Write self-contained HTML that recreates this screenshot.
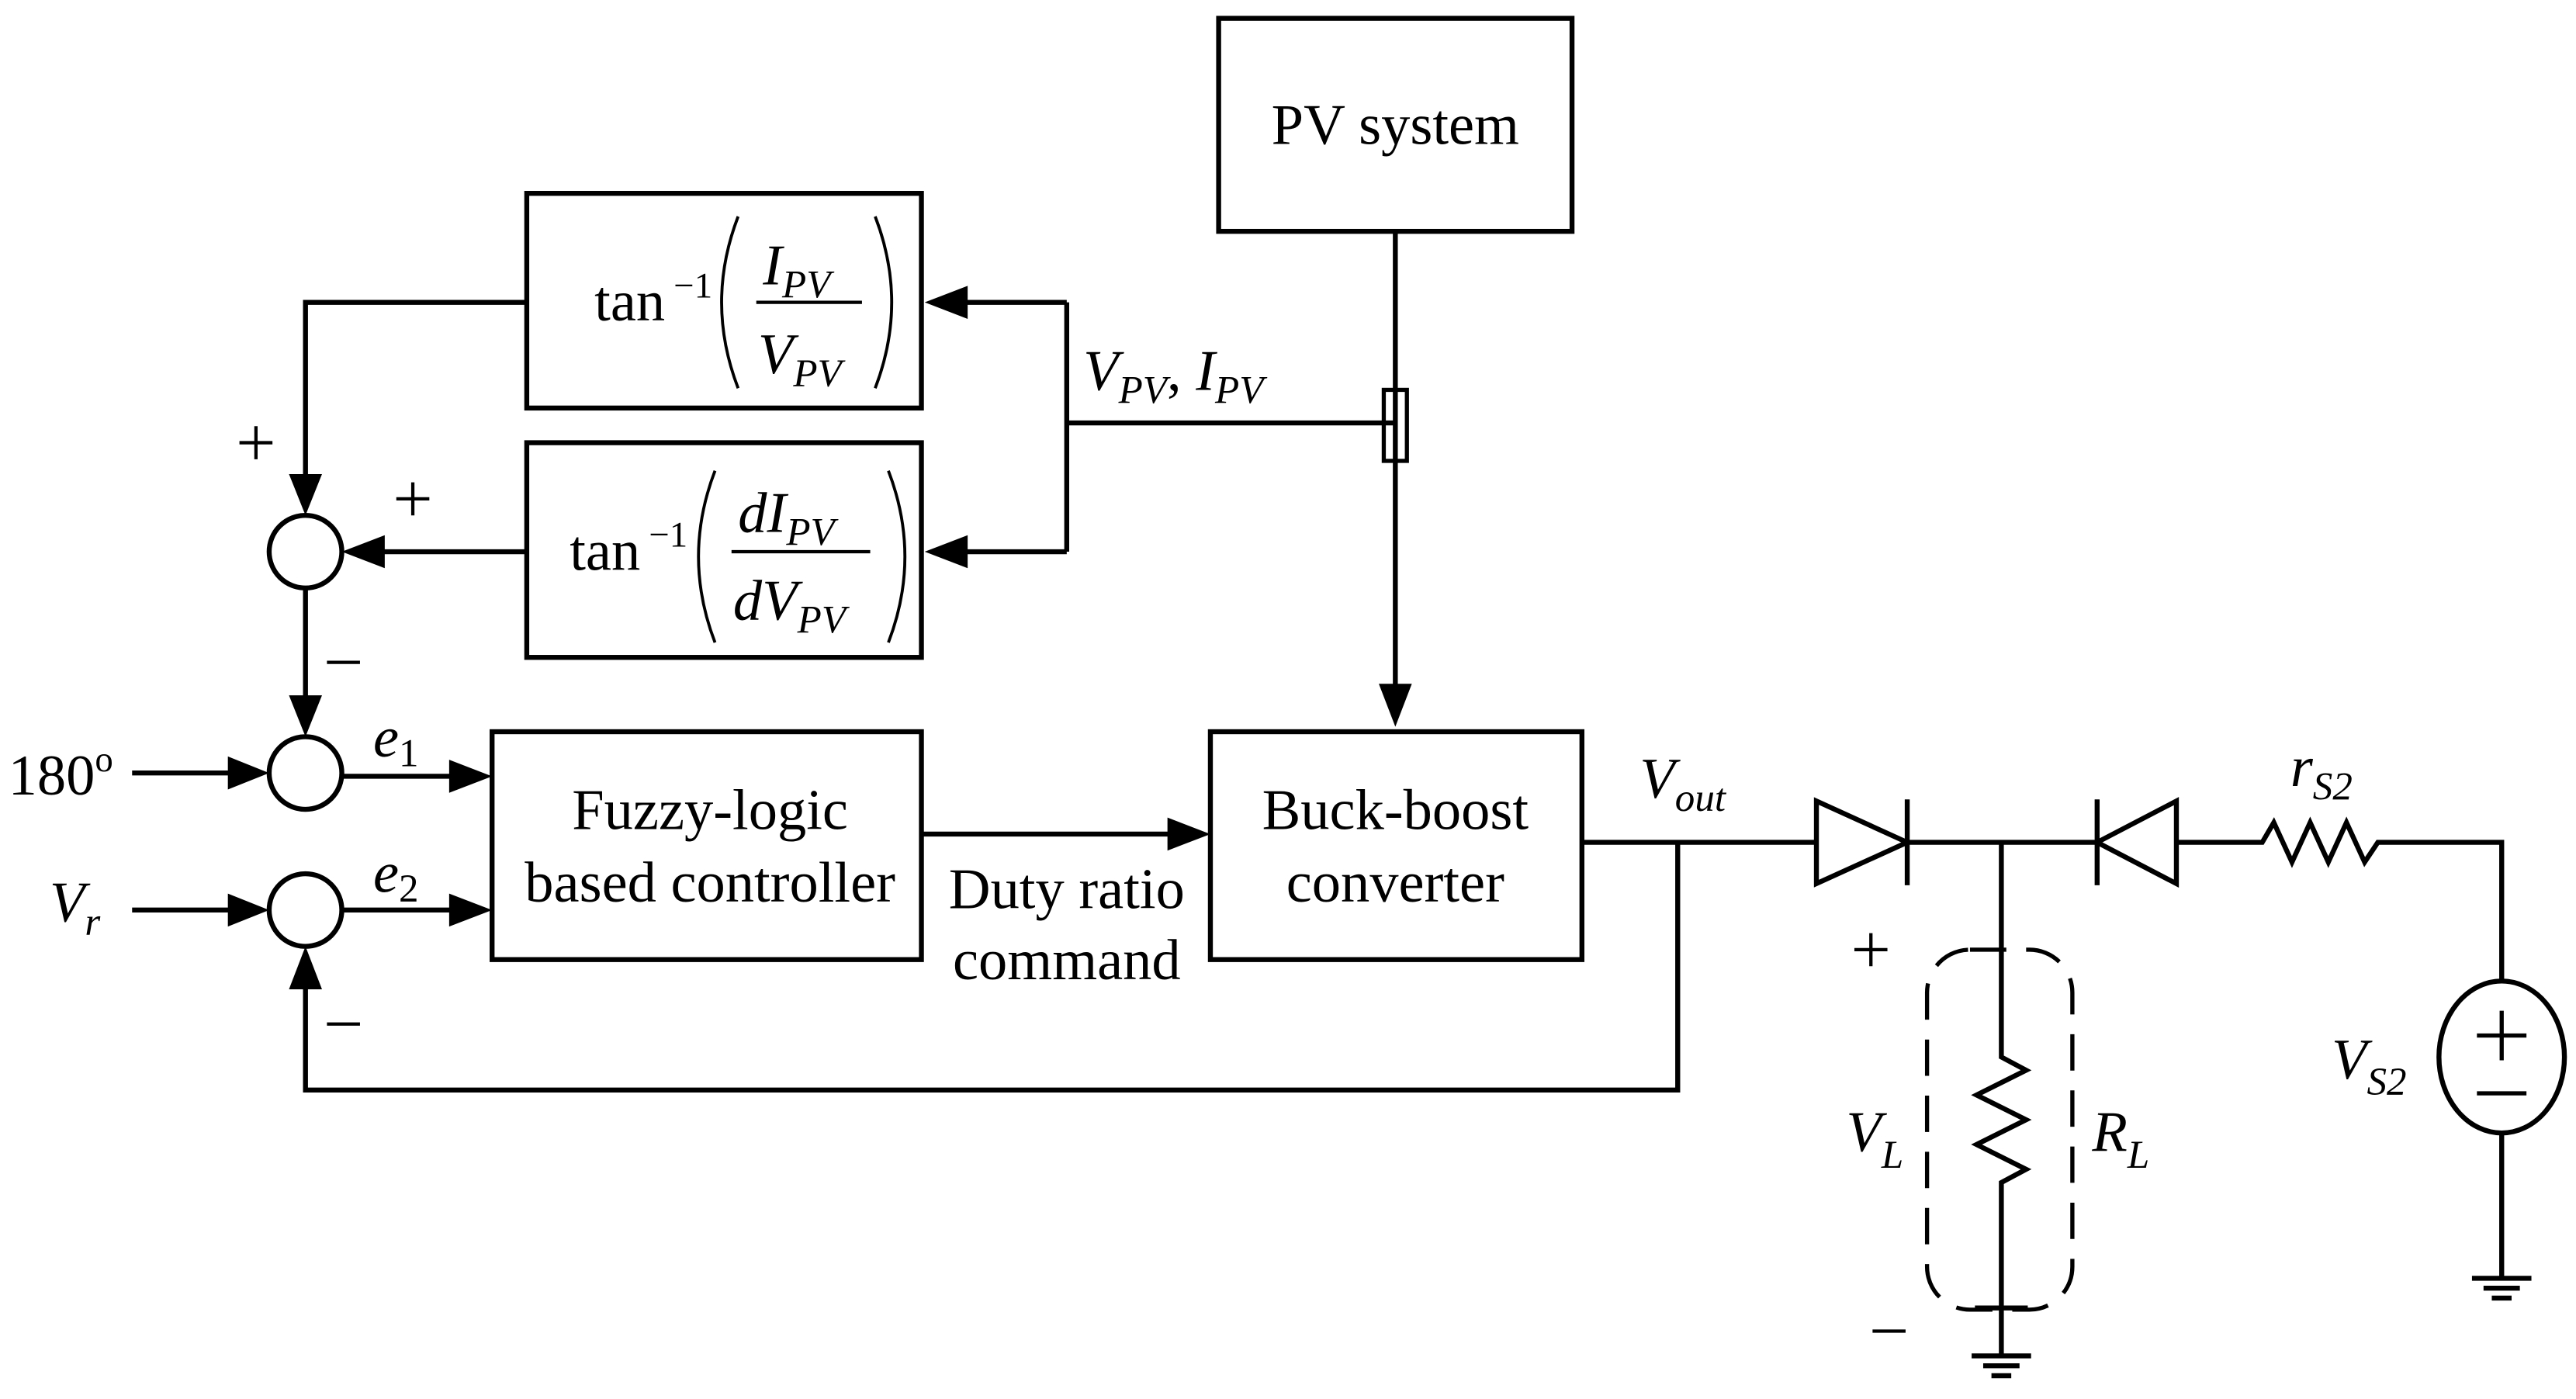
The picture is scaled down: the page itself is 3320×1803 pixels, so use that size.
<!DOCTYPE html>
<html><head><meta charset="utf-8"><style>
html,body{margin:0;padding:0;background:#fff;}
svg{display:block;}
text{font-family:"Liberation Serif",serif;fill:#000;}
.i{font-style:italic;}
</style></head><body>
<svg width="3320" height="1803" viewBox="0 0 1560 847" xmlns="http://www.w3.org/2000/svg">
<g fill="none" stroke="#000" stroke-width="3">
<rect x="738" y="11" width="214" height="129"/>
<rect x="319" y="117" width="239" height="130"/>
<rect x="319" y="268" width="239" height="130"/>
<rect x="298" y="443" width="260" height="138"/>
<rect x="733" y="443" width="225" height="138"/>
<line x1="845" y1="140" x2="845" y2="416"/>
<path d="M835,414 L845,440 L855,414 z" fill="#000" stroke="none"/>
<rect x="838" y="236" width="14" height="43" stroke-width="2.5"/>
<line x1="646" y1="256" x2="845" y2="256"/>
<polyline points="646,183 646,334"/>
<line x1="646" y1="183" x2="584" y2="183"/>
<path d="M586,173 L560,183 L586,193 z" fill="#000" stroke="none"/>
<line x1="646" y1="334" x2="584" y2="334"/>
<path d="M586,324 L560,334 L586,344 z" fill="#000" stroke="none"/>
<polyline points="319,183 185,183 185,290"/>
<path d="M175,287 L185,312 L195,287 z" fill="#000" stroke="none"/>
<line x1="319" y1="334" x2="232" y2="334"/>
<path d="M233,324 L207,334 L233,344 z" fill="#000" stroke="none"/>
<circle cx="185" cy="334" r="22"/>
<line x1="185" y1="356" x2="185" y2="424"/>
<path d="M175,421 L185,446 L195,421 z" fill="#000" stroke="none"/>
<circle cx="185" cy="468" r="22"/>
<circle cx="185" cy="551" r="22"/>
<line x1="80" y1="468" x2="140" y2="468"/>
<path d="M138,458 L163,468 L138,478 z" fill="#000" stroke="none"/>
<line x1="80" y1="551" x2="140" y2="551"/>
<path d="M138,541 L163,551 L138,561 z" fill="#000" stroke="none"/>
<line x1="207" y1="470" x2="275" y2="470"/>
<path d="M272,460 L298,470 L272,480 z" fill="#000" stroke="none"/>
<line x1="207" y1="551" x2="275" y2="551"/>
<path d="M272,541 L298,551 L272,561 z" fill="#000" stroke="none"/>
<line x1="558" y1="505" x2="710" y2="505"/>
<path d="M707,495 L733,505 L707,515 z" fill="#000" stroke="none"/>
<line x1="958" y1="510" x2="1100" y2="510"/>
<polyline points="1016,510 1016,660 185,660 185,597"/>
<path d="M175,599 L185,573 L195,599 z" fill="#000" stroke="none"/>
<path d="M1100,485 L1100,535 L1155,510 z"/>
<line x1="1155" y1="484" x2="1155" y2="536"/>
<line x1="1155" y1="510" x2="1270" y2="510"/>
<path d="M1318,485 L1318,535 L1270,510 z"/>
<line x1="1270" y1="484" x2="1270" y2="536"/>
<polyline points="1318,510 1370,510 1377,498 1388,522 1399,498 1410,522 1421,498 1432,522 1440,510 1515,510 1515,594"/>
<ellipse cx="1515" cy="640" rx="38" ry="46"/>
<line x1="1500" y1="627" x2="1530" y2="627" stroke-width="2.5"/>
<line x1="1515" y1="612" x2="1515" y2="642" stroke-width="2.5"/>
<line x1="1500" y1="662" x2="1530" y2="662" stroke-width="2.5"/>
<line x1="1515" y1="686" x2="1515" y2="773"/>
<line x1="1497" y1="774" x2="1533" y2="774"/>
<line x1="1504" y1="780" x2="1526" y2="780"/>
<line x1="1509" y1="786" x2="1521" y2="786"/>
<polyline points="1212,510 1212,640 1227,648 1197,663 1227,678 1197,693 1227,708 1212,716 1212,820"/>
<line x1="1196" y1="792" x2="1228" y2="792"/>
<line x1="1194" y1="821" x2="1230" y2="821"/>
<line x1="1201" y1="827" x2="1223" y2="827"/>
<line x1="1206" y1="833" x2="1218" y2="833"/>
<rect x="1167" y="575" width="88" height="218" rx="26" stroke-dasharray="22,12" stroke-width="2.5"/>
<!-- signs -->
<g stroke-width="2">
<path d="M145,268 h20 M155,258 v20"/>
<path d="M240,302 h20 M250,292 v20"/>
<path d="M198,401 h20"/>
<path d="M198,620 h20"/>
<path d="M1123,575 h20 M1133,565 v20"/>
<path d="M1134,806 h20"/>
</g>
<!-- parentheses -->
<g stroke-width="1.8">
<path d="M447,131 Q427,183 447,235"/>
<path d="M530,131 Q550,183 530,235"/>
<path d="M433,285 Q413,337 433,389"/>
<path d="M538,285 Q558,337 538,389"/>
</g>
</g>
<g font-size="35">
<text x="845" y="87" text-anchor="middle">PV system</text>
<text x="430" y="502" text-anchor="middle">Fuzzy-logic</text>
<text x="430" y="546" text-anchor="middle">based controller</text>
<text x="845" y="502" text-anchor="middle">Buck-boost</text>
<text x="845" y="546" text-anchor="middle">converter</text>
<text x="646" y="550" text-anchor="middle">Duty ratio</text>
<text x="646" y="593" text-anchor="middle">command</text>
<text x="5" y="481">180<tspan dy="-14" font-size="22">o</tspan></text>
<text x="30" y="558" class="i">V<tspan dy="8" font-size="24">r</tspan></text>
<text x="226" y="458" class="i">e<tspan dy="6" font-size="24" font-style="normal">1</tspan></text>
<text x="226" y="540" class="i">e<tspan dy="6" font-size="24" font-style="normal">2</tspan></text>
<text x="656" y="236" class="i">V<tspan dy="8" font-size="24">PV</tspan><tspan dy="-8" font-style="normal">,  </tspan>I<tspan dy="8" font-size="24">PV</tspan></text>
<text x="993" y="483" class="i">V<tspan dy="8" font-size="24">out</tspan></text>
<text x="1387" y="476" class="i">r<tspan dy="8" font-size="24">S2</tspan></text>
<text x="1412" y="653" class="i">V<tspan dy="10" font-size="24">S2</tspan></text>
<text x="1118" y="697" class="i">V<tspan dy="10" font-size="24">L</tspan></text>
<text x="1267" y="697" class="i">R<tspan dy="10" font-size="24">L</tspan></text>
<text x="360" y="194">tan</text>
<text x="408" y="180" font-size="22">−1</text>
<text x="462" y="172" class="i">I<tspan dy="8" font-size="24">PV</tspan></text>
<text x="459" y="226" class="i">V<tspan dy="8" font-size="24">PV</tspan></text>
<text x="345" y="345">tan</text>
<text x="393" y="331" font-size="22">−1</text>
<text x="447" y="322" class="i">dI<tspan dy="8" font-size="24">PV</tspan></text>
<text x="444" y="375" class="i">dV<tspan dy="8" font-size="24">PV</tspan></text>
</g>
<line x1="458" y1="183" x2="522" y2="183" stroke="#000" stroke-width="2"/>
<line x1="443" y1="334" x2="527" y2="334" stroke="#000" stroke-width="2"/>
</svg>
</body></html>
